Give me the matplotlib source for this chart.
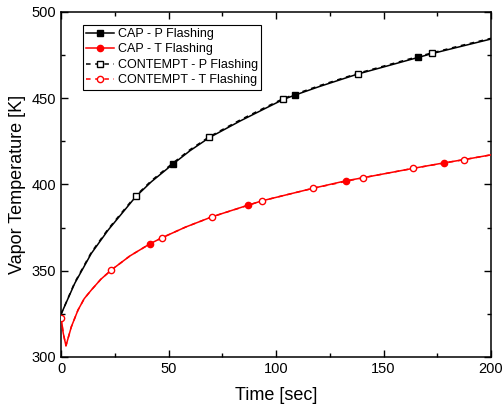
import matplotlib
matplotlib.use("Agg")
import matplotlib.pyplot as plt
from matplotlib.lines import Line2D
from matplotlib.ticker import MultipleLocator

plt.rcParams['font.family'] = ['Liberation Sans', 'DejaVu Sans']

# CAP - P Flashing (solid black line)
cap_p_t = [0, 6.4, 14.1, 21.9, 29.6, 34.7, 42, 52.3, 60, 69, 83.3, 95, 103.4, 109, 120, 138, 150, 166, 172.4, 185, 200]
cap_p_T = [324.7, 342.7, 360, 373.5, 385.1, 392.8, 401.5, 412, 419.5, 427.1, 436.7, 444, 449.2, 451.8, 456.6, 463.9, 468, 473.5, 475.7, 479.6, 484.2]
cap_p_mark_t = [52.3, 109, 166]
cap_p_mark_T = [412, 451.8, 473.5]

# CONTEMPT - P Flashing (dashed black line)
con_p_t = [0, 6.4, 14.1, 21.9, 29.6, 34.7, 42, 52.3, 60, 69, 83.3, 95, 103.4, 109, 120, 138, 150, 166, 172.4, 185, 200]
con_p_T = [324.7, 343.2, 360.6, 374.1, 385.7, 393.3, 402.1, 412.6, 420.1, 427.6, 437.3, 444.6, 449.7, 452.3, 457.1, 464.3, 468.5, 474.0, 476.1, 480.1, 484.6]
con_p_mark_t = [34.7, 69, 103.4, 138, 172.4]
con_p_mark_T = [393.0, 427.3, 449.4, 464.0, 475.9]

# CAP - T Flashing (solid red line)
cap_t_t = [0, 1, 2.3, 4.8, 7.9, 10.8, 14.1, 18.5, 23.4, 32, 41.4, 47, 58, 70.2, 87.1, 93.6, 117.1, 132.6, 140.3, 163.9, 178.3, 187.3, 200]
cap_t_T = [323.5, 314, 306.5, 317.5, 327.2, 333.8, 338.8, 345, 350.4, 358.5, 365.6, 369.1, 375.3, 381.2, 388, 390.5, 397.7, 402.1, 403.8, 409.3, 412.5, 414.3, 417.1]
cap_t_mark_t = [41.4, 87.1, 132.6, 178.3]
cap_t_mark_T = [365.6, 388, 402.1, 412.5]

# CONTEMPT - T Flashing (dashed red line)
con_t_t = [0, 1, 2.3, 4.8, 7.9, 10.8, 14.1, 18.5, 23.4, 32, 41.4, 47, 58, 70.2, 93.6, 117.1, 140.3, 163.9, 187.3, 200]
con_t_T = [322.8, 314, 306.5, 317.5, 327.2, 333.8, 338.8, 345, 350.4, 358.5, 365.6, 369.1, 375.3, 381.2, 390.5, 397.7, 403.8, 409.3, 414.3, 417.1]
con_t_mark_t = [0, 23.4, 47, 70.2, 93.6, 117.1, 140.3, 163.9, 187.3]
con_t_mark_T = [322.8, 350.4, 369.1, 381.2, 390.5, 397.7, 403.8, 409.3, 414.3]

labels = ["CAP - P Flashing", "CAP - T Flashing", "CONTEMPT - P Flashing", "CONTEMPT - T Flashing"]
x_ticks = [0, 50, 100, 150, 200]
y_ticks = [300, 350, 400, 450, 500]

fig = plt.figure(figsize=(5.03, 4.12), dpi=100)
ax = fig.add_axes([0.1213, 0.1335, 0.8549, 0.838])

lw = 1.1
ax.plot(cap_t_t, cap_t_T, '-', color='#ff0000', lw=lw, zorder=3)
ax.plot(con_t_t, con_t_T, '--', color='#ff0000', lw=lw, dashes=(3, 3), zorder=3)
ax.plot(cap_p_t, cap_p_T, '-', color='black', lw=lw, zorder=3)
ax.plot(con_p_t, con_p_T, '--', color='black', lw=lw, dashes=(3, 3), zorder=3)

ms_sq = 4.0
ms_c = 4.5
ax.plot(cap_p_mark_t, cap_p_mark_T, 's', ms=ms_sq, color='black', zorder=5)
ax.plot(con_p_mark_t, con_p_mark_T, 's', ms=ms_sq, mfc='white', mec='black', mew=1.0, zorder=5)
ax.plot(cap_t_mark_t, cap_t_mark_T, 'o', ms=ms_c, color='#ff0000', zorder=5)
ax.plot(con_t_mark_t, con_t_mark_T, 'o', ms=ms_c, mfc='white', mec='#ff0000', mew=1.0, zorder=5)

handles = [
    Line2D([], [], color='black', lw=lw, marker='s', ms=ms_sq),
    Line2D([], [], color='#ff0000', lw=lw, marker='o', ms=ms_c),
    Line2D([], [], color='black', lw=lw, ls=(0, (3, 3)), marker='s', ms=ms_sq, mfc='white', mew=1.0),
    Line2D([], [], color='#ff0000', lw=lw, ls=(0, (3, 3)), marker='o', ms=ms_c, mfc='white', mew=1.0),
]
leg = ax.legend(handles, labels, loc='upper left', bbox_to_anchor=(0.052, 0.962),
                fontsize=9, frameon=True, fancybox=False, framealpha=1,
                edgecolor='black', handlelength=2.2, handletextpad=0.3,
                labelspacing=0.28, borderpad=0.25, borderaxespad=0.0)
leg.get_frame().set_linewidth(0.8)

ax.set_xlim(0, 200)
ax.set_ylim(300, 500)
ax.set_xticks(x_ticks)
ax.set_yticks(y_ticks)
ax.xaxis.set_minor_locator(MultipleLocator(25))
ax.yaxis.set_minor_locator(MultipleLocator(25))
ax.tick_params(which='both', direction='in', top=True, right=True, labelsize=10.5, width=1.0)
ax.tick_params(which='major', length=5)
ax.tick_params(which='minor', length=3)
for s in ax.spines.values():
    s.set_linewidth(1.1)

ax.set_xlabel("Time [sec]", fontsize=13, labelpad=8)
ax.set_ylabel("Vapor Temperature [K]", fontsize=13, labelpad=4)

fig.savefig("out.png", dpi=100)
